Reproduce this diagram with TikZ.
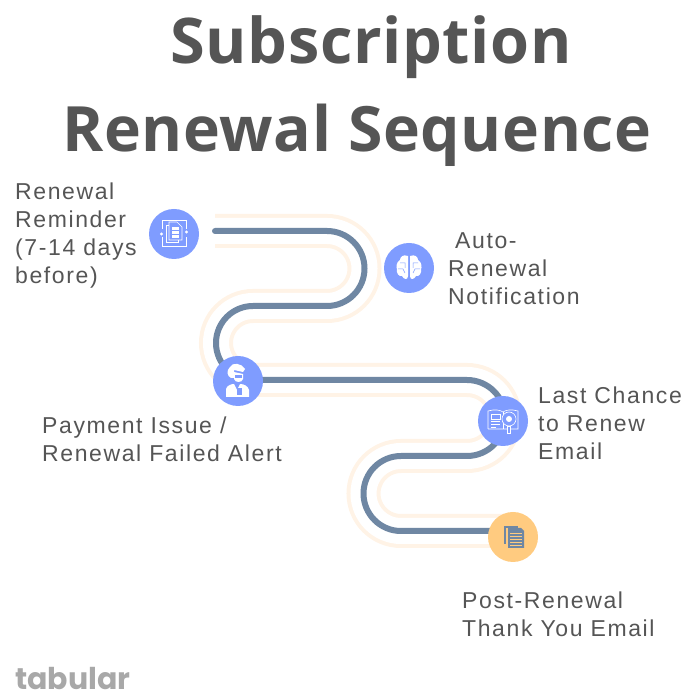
\documentclass[tikz,border=0pt]{standalone}
\usepackage{fontspec}
\setmainfont{Open Sans}
\newfontfamily\titlefont{Open Sans}[LetterSpace=1]
\newfontfamily\labelfont{Liberation Sans}[LetterSpace=7]
\newfontfamily\logofont{Poppins}
\usetikzlibrary{backgrounds}
\definecolor{ink}{HTML}{555555}
\definecolor{road}{HTML}{6F87A3}
\definecolor{glow}{HTML}{FFF3E6}
\definecolor{stopblue}{HTML}{7F9CFF}
\definecolor{stoporange}{HTML}{FFCB80}
\definecolor{logogrey}{HTML}{A8A8A8}
\tikzset{
  x=1pt,y=1pt,
  stopnode/.style={circle,minimum size=50pt,inner sep=0pt,fill=#1},
  lab/.style={anchor=north west,inner sep=0pt,align=left,text=ink,font=\labelfont\fontsize{#1}{28}\selectfont},
  heading/.style={inner sep=0pt,text=ink,font=\titlefont\bfseries\fontsize{#1}{63}\selectfont},
  roadline/.style={draw=road,line width=6pt,line cap=round},
  glowline/.style={draw=glow,line width=4pt,double=white,double distance=26pt},
  ic/.style={draw=white,line width=.6pt,fill=none}
}
\begin{document}
\begin{tikzpicture}
\useasboundingbox (0,0) rectangle (700,700);
% stops
\node[stopnode=stopblue] (nRem) at (174,466) {};
\node[stopnode=stopblue] (nAuto) at (409,432) {};
\node[stopnode=stopblue] (nPay) at (238,319) {};
\node[stopnode=stopblue] (nLast) at (503,279) {};
\node[stopnode=stoporange] (nPost) at (513,163) {};
\coordinate (pStart) at (215,469);
% connector
\begin{scope}[on background layer]
\def\roadpath{(pStart) -- (327,469) arc[start angle=90,end angle=-90,radius=37.5pt]
  -- (253,394) arc[start angle=90,end angle=270,radius=37pt]
  -- (467,320) arc[start angle=90,end angle=-90,radius=38pt]
  -- (401,244) arc[start angle=90,end angle=270,radius=37.5pt]
  -- (nPost |- 0,169)}
\draw[glowline] \roadpath;
\draw[roadline] \roadpath;
\end{scope}
% icon 1: document with arrows
\begin{scope}[shift={(nRem.center)}]
\draw[ic] (-12,14) rectangle (12,-12);
\fill[stopblue] (-15,-3) rectangle (15,5);
\fill[white] (-12.5,0) circle (1.6);
\fill[white] (12.5,2) circle (1.6);
\draw[ic,fill=stopblue] (-8,-8) rectangle (4,9);
\draw[ic,fill=stopblue] (-5,-6) -- (-5,12) -- (3,12) -- (8,7) -- (8,-6) -- cycle;
\foreach \y in {5,1,-3}{\fill[white] (-2,\y-1) rectangle (5,\y+1.5);}
\end{scope}
% icon 2: brain
\begin{scope}[shift={(nAuto.center)}]
\fill[white] (-1,12) .. controls (-6,14) and (-9,11) .. (-9,8) .. controls (-13,6) and (-13,0) .. (-12,-1)
 .. controls (-13,-5) and (-10,-9) .. (-7,-8) .. controls (-5,-12) and (-1,-12) .. (-1,-8) -- cycle;
\fill[white] (1,12) .. controls (6,14) and (9,11) .. (9,8) .. controls (13,6) and (13,0) .. (12,-1)
 .. controls (13,-5) and (10,-9) .. (7,-8) .. controls (5,-12) and (1,-12) .. (1,-8) -- cycle;
\draw[stopblue,line width=.5pt] (-9,5) -- (-4,5) -- (-4,0) (-11,-1) -- (-6,-1) -- (-4,-5) (9,5) -- (4,5) -- (4,0) (11,-1) -- (6,-1) -- (4,-5);
\end{scope}
% icon 3: person with headset
\begin{scope}[shift={(nPay.center)}]
\fill[white] (-8,14) .. controls (-12,10) and (-11,5) .. (-7,3) -- (-4,3) -- (-4,11) -- (5,9) -- (7,12) .. controls (4,18) and (-6,19) .. (-8,14) -- cycle;
\fill[white] (-4,9) -- (5,7) -- (5,2) .. controls (4,-2) and (-3,-2) .. (-4,2) -- cycle;
\fill[stopblue] (-3,3) rectangle (4,6);
\fill[white] (-12,-16) -- (-12,-8) .. controls (-11,-4) and (-6,-3) .. (-4,-3) -- (-1,-9) -- (2,-3) .. controls (6,-3) and (10,-5) .. (11,-9) -- (11,-16) -- cycle;
\fill[stopblue] (-1,-7) rectangle (4,-14);
\end{scope}
% icon 4: open book with magnifier
\begin{scope}[shift={(nLast.center)}]
\draw[ic] (-15,-8) -- (-15,10) .. controls (-8,12) and (-3,11) .. (0,9) .. controls (3,11) and (8,12) .. (15,10) -- (15,-8) -- (-15,-8);
\draw[ic] (-12,7) rectangle (-3,2);
\foreach \y in {0,-3}{\draw[ic] (-12,\y) -- (-3,\y);}
\draw[ic] (-12,-6) -- (-7,-6);
\draw[ic] (0,9) -- (0,-8);
\draw[ic,fill=stopblue] (6,2) circle (7);
\fill[white] (6,2) circle (3);
\draw[ic,fill=stopblue] (4.5,-5) rectangle (7.5,-12);
\end{scope}
% icon 5: documents
\begin{scope}[shift={(nPost.center)}]
\fill[road] (-9,11) -- (5,11) -- (5,-7) -- (-9,-7) -- cycle;
\fill[stoporange] (-7,9) rectangle (11,-11);
\fill[road] (-5,9) -- (8,9) -- (11,6) -- (11,-11) -- (-5,-11) -- cycle;
\foreach \y in {4,1,-2,-5,-8}{\draw[stoporange,line width=.6pt] (-3,\y) -- (9,\y);}
\end{scope}
% titles
\node[heading=63] (title1) at (371,653) {Subscription};
\node[heading=62.5] (title2) at (357,565) {Renewal Sequence};
% labels
\node[lab=23] (lRem) at (15,517) {Renewal\\Reminder\\(7-14 days\\before)};
\node[lab=23] (lAuto) at (448,468) {\hspace{7pt}Auto-\\Renewal\\Notification};
\node[lab=23] (lPay) at (42,283) {Payment Issue /\\Renewal Failed Alert};
\node[lab=23] (lLast) at (538,313) {Last Chance\\to Renew\\Email};
\node[lab=23] (lPost) at (462,108) {Post-Renewal\\Thank You Email};
\node[inner sep=0pt,anchor=west,text=logogrey,font=\logofont\bfseries\fontsize{30}{30}\selectfont] (logo) at (15,21) {tabular};
\end{tikzpicture}
\end{document}
